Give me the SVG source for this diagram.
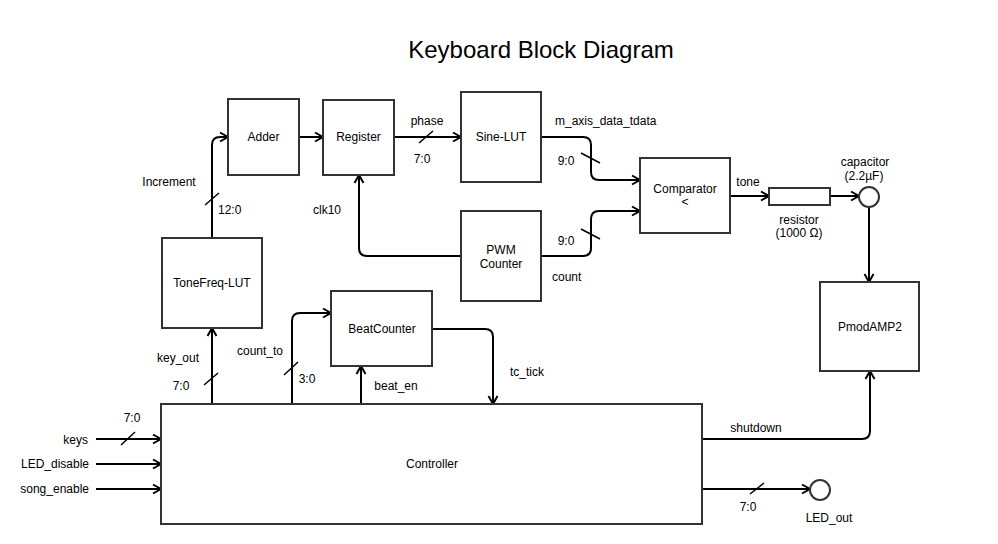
<svg xmlns="http://www.w3.org/2000/svg" width="998" height="544" viewBox="0 0 998 544">
<defs>
<style>
.box{fill:#fff;stroke:#333;stroke-width:2}
.ln{fill:none;stroke:#000;stroke-width:2}
.sl{fill:none;stroke:#000;stroke-width:1.5}
text{font-family:"Liberation Sans",Arial,sans-serif;font-size:12px;fill:#000}
.c{text-anchor:middle}
.e{text-anchor:end}
.t{font-size:24px}
</style>
<marker id="arr" markerWidth="12" markerHeight="12" refX="9" refY="6" orient="auto" markerUnits="userSpaceOnUse">
<path d="M1,1.5 L9,6 L1,10.5" fill="none" stroke="#000" stroke-width="2"/>
</marker>
</defs>
<rect width="998" height="544" fill="#fff"/>
<text class="t c" x="541" y="58">Keyboard Block Diagram</text>

<g id="connectors">
<path class="ln" d="M212,238 V145 Q212,137 220,137 H228" marker-end="url(#arr)"/>
<path class="ln" d="M299,137 H323" marker-end="url(#arr)"/>
<path class="ln" d="M394,137 H461" marker-end="url(#arr)"/>
<path class="ln" d="M461,256 H367 Q359,256 359,248 V175" marker-end="url(#arr)"/>
<path class="ln" d="M541,137 H583 Q591,137 591,145 V172 Q591,180 599,180 H640" marker-end="url(#arr)"/>
<path class="ln" d="M541,256 H583 Q591,256 591,248 V219 Q591,211 599,211 H640" marker-end="url(#arr)"/>
<path class="ln" d="M730,196 H769" marker-end="url(#arr)"/>
<path class="ln" d="M830,196 H859" marker-end="url(#arr)"/>
<path class="ln" d="M869,207 V282" marker-end="url(#arr)"/>
<path class="ln" d="M212,404 V328" marker-end="url(#arr)"/>
<path class="ln" d="M292,404 V321 Q292,313 300,313 H331" marker-end="url(#arr)"/>
<path class="ln" d="M361,404 V366" marker-end="url(#arr)"/>
<path class="ln" d="M432,329 H485 Q493,329 493,337 V404" marker-end="url(#arr)"/>
<path class="ln" d="M96,439 H161" marker-end="url(#arr)"/>
<path class="ln" d="M96,464 H161" marker-end="url(#arr)"/>
<path class="ln" d="M96,489 H161" marker-end="url(#arr)"/>
<path class="ln" d="M702,439 H862 Q870,439 870,431 V371" marker-end="url(#arr)"/>
<path class="ln" d="M702,489 H810" marker-end="url(#arr)"/>
<path class="sl" d="M205,205 L219,193"/>
<path class="sl" d="M419,143 L433,131"/>
<path class="sl" d="M581,153 L600,163"/>
<path class="sl" d="M581,229 L600,239"/>
<path class="sl" d="M204,385 L218,373"/>
<path class="sl" d="M284,375 L298,362"/>
<path class="sl" d="M121,445 L135,432"/>
<path class="sl" d="M750,494 L764,483"/>
<text class="c" x="169" y="186">Increment</text>
<text x="218" y="214">12:0</text>
<text class="c" x="427" y="125">phase</text>
<text class="c" x="422" y="163">7:0</text>
<text class="c" x="327" y="214">clk10</text>
<text x="555" y="125">m_axis_data_tdata</text>
<text class="c" x="566" y="165">9:0</text>
<text class="c" x="566" y="245">9:0</text>
<text x="552" y="281">count</text>
<text class="c" x="748" y="186">tone</text>
<text class="c" x="178" y="362">key_out</text>
<text class="c" x="181" y="390">7:0</text>
<text class="c" x="260" y="355">count_to</text>
<text class="c" x="307" y="383">3:0</text>
<text class="c" x="396" y="390">beat_en</text>
<text class="c" x="527" y="376">tc_tick</text>
<text class="c" x="132" y="422">7:0</text>
<text class="e" x="88" y="444">keys</text>
<text class="e" x="89" y="468">LED_disable</text>
<text class="e" x="89" y="493">song_enable</text>
<text class="c" x="756" y="432">shutdown</text>
<text class="c" x="748" y="511">7:0</text>
</g>

<g id="adder"><rect class="box" x="228" y="99" width="71" height="76"/><text class="c" x="263.5" y="141">Adder</text></g>
<g id="register"><rect class="box" x="323" y="100" width="71" height="75"/><text class="c" x="358.5" y="141">Register</text></g>
<g id="sine-lut"><rect class="box" x="461" y="92" width="80" height="90"/><text class="c" x="501" y="141">Sine-LUT</text></g>
<g id="pwm-counter"><rect class="box" x="461" y="211" width="80" height="90"/><text class="c" x="501" y="254">PWM</text><text class="c" x="501" y="268">Counter</text></g>
<g id="tonefreq-lut"><rect class="box" x="162" y="238" width="100" height="90"/><text class="c" x="212" y="287">ToneFreq-LUT</text></g>
<g id="comparator"><rect class="box" x="640" y="158" width="90" height="75"/><text class="c" x="685" y="193">Comparator</text><text class="c" x="685" y="206">&lt;</text></g>
<g id="resistor"><rect class="box" x="769" y="188" width="61" height="17"/><text class="c" x="799" y="224">resistor</text><text class="c" x="799" y="237">(1000 Ω)</text></g>
<g id="capacitor"><circle class="box" cx="869" cy="197" r="10"/><text class="c" x="865" y="166">capacitor</text><text class="c" x="864" y="180">(2.2µF)</text></g>
<g id="pmodamp2"><rect class="box" x="820" y="282" width="99" height="89"/><text class="c" x="870" y="331">PmodAMP2</text></g>
<g id="beatcounter"><rect class="box" x="331" y="291" width="101" height="75"/><text class="c" x="382" y="333">BeatCounter</text></g>
<g id="controller"><rect class="box" x="161" y="404" width="541" height="120"/><text class="c" x="432" y="468">Controller</text></g>
<g id="led-out"><circle class="box" cx="820" cy="490" r="10"/><text class="c" x="829" y="522">LED_out</text></g>
</svg>
